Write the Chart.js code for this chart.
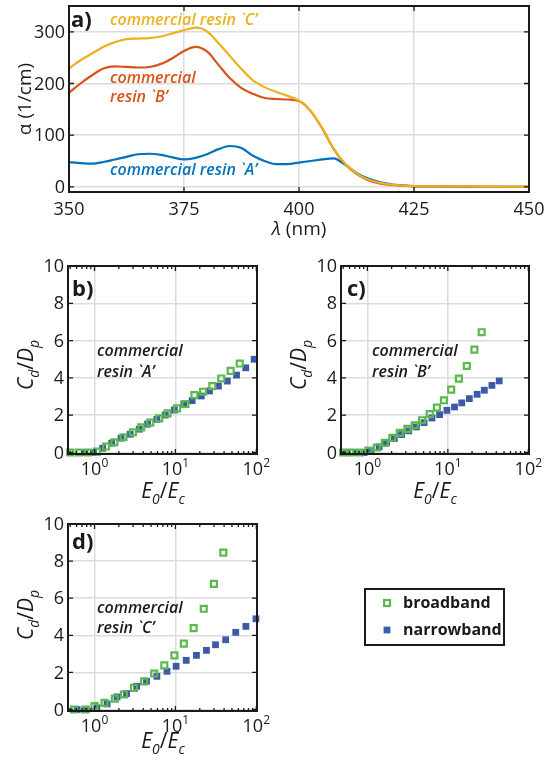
<!DOCTYPE html>
<html>
<head>
<meta charset="utf-8">
<script src="https://cdn.jsdelivr.net/npm/chart.js@4.4.1/dist/chart.umd.min.js"></script>
<style>
  body { margin: 0; background: #fff; width: 544px; height: 764px; position: relative; overflow: hidden; }
  canvas { position: absolute; }
</style>
</head>
<body>
<canvas id="a" width="544" height="250" style="left:0;top:0"></canvas>
<canvas id="b" width="272" height="258" style="left:0;top:250px"></canvas>
<canvas id="c" width="271" height="258" style="left:273px;top:250px"></canvas>
<canvas id="d" width="544" height="264" style="left:0;top:500px"></canvas>
<script>
// panel a: absorption spectra
const lambda = [350, 352.5, 355, 357.5, 360, 362.5, 365, 367.5, 370, 372.5, 375, 377.5, 380, 382.5,
  385, 387.5, 390, 392.5, 395, 397.5, 400, 402.5, 405, 407.5, 410, 412.5, 415, 417.5, 420, 422.5,
  425, 430, 435, 440, 445, 450];
const resinA = [48, 46, 45, 48, 53, 58, 63, 64, 62, 57, 53, 56, 63, 73, 79, 75, 60, 50, 44, 44,
  47, 50, 53, 55, 43, 27, 16, 9, 5, 3, 1.5, 0.7, 0.4, 0.2, 0.1, 0];
const resinB = [182, 200, 216, 229, 233, 232, 231, 232, 238, 249, 263, 271, 262, 236, 210, 191, 180, 172, 170, 169,
  166, 147, 114, 74, 44, 25, 13, 6.5, 3.5, 2, 1, 0.5, 0.3, 0.2, 0.1, 0];
const resinC = [229, 245, 258, 271, 280, 286, 287, 288, 291, 297, 303, 308, 301, 278, 253, 228, 206, 193, 184, 176,
  167, 147, 114, 74, 45, 26, 14, 8, 4.5, 2.5, 1.5, 1, 0.8, 0.5, 0.3, 0];
const lambdaTicks = [350, 375, 400, 425, 450];
const alphaTicks = [0, 100, 200, 300];

// panels b-d: working curves (E0/Ec vs Cd/Dp)
const bBroadX = [0.5, 0.64, 0.83, 1.07, 1.39, 1.76, 2.28, 2.98, 3.78, 4.89, 6.3, 8.0, 10.5, 13.3, 17.2, 22, 28.6, 36.9, 48.2, 62.4];
const bBroadY = [0, 0, 0, 0.05, 0.32, 0.55, 0.82, 1.08, 1.35, 1.6, 1.83, 2.1, 2.37, 2.6, 3.08, 3.26, 3.56, 3.97, 4.38, 4.77];
const bNarrowX = [0.76, 0.97, 1.26, 1.63, 2.13, 2.76, 3.57, 4.53, 5.9, 7.5, 9.7, 12.7, 16.1, 20.9, 26.4, 34, 43.8, 57, 74, 94];
const bNarrowY = [0, 0, 0.23, 0.5, 0.77, 0.98, 1.25, 1.52, 1.78, 2.01, 2.28, 2.6, 2.78, 3.03, 3.3, 3.56, 3.83, 4.15, 4.54, 5.0];

const cBroadX = [0.5, 0.62, 0.8, 1.03, 1.31, 1.65, 2.04, 2.53, 3.15, 3.88, 4.78, 5.95, 7.31, 8.93, 11.0, 13.7, 17.2, 21.4, 26.3];
const cBroadY = [0, 0, 0, 0.1, 0.27, 0.52, 0.79, 1.05, 1.27, 1.46, 1.73, 2.06, 2.41, 2.8, 3.37, 3.96, 4.64, 5.52, 6.45];
const cNarrowX = [0.557, 0.72, 0.91, 1.11, 1.40, 1.73, 2.16, 2.66, 3.27, 4.07, 5.06, 6.35, 7.9, 9.73, 12.1, 14.9, 18.5, 23.1, 28.4, 35.3, 43.5];
const cNarrowY = [0, 0, 0, 0.09, 0.3, 0.54, 0.75, 0.96, 1.16, 1.37, 1.6, 1.85, 2.03, 2.26, 2.44, 2.66, 2.89, 3.12, 3.34, 3.6, 3.84];

const dBroadX = [0.557, 0.77, 1.0, 1.33, 1.78, 2.31, 3.07, 4.1, 5.47, 7.29, 9.72, 12.7, 16.8, 22.4, 29.9, 39.1];
const dBroadY = [0, 0, 0.18, 0.36, 0.59, 0.81, 1.17, 1.52, 1.94, 2.38, 2.92, 3.55, 4.39, 5.43, 6.77, 8.46];
const dNarrowX = [0.61, 0.79, 1.07, 1.43, 1.9, 2.49, 3.32, 4.39, 5.9, 7.87, 10.2, 13.6, 18.2, 24.2, 31.3, 41.8, 55.7, 74.3, 99];
const dNarrowY = [0, 0, 0.09, 0.3, 0.68, 0.86, 1.25, 1.52, 1.79, 2.06, 2.33, 2.65, 2.92, 3.19, 3.49, 3.76, 4.16, 4.48, 4.89];

const cdTicks = [0, 2, 4, 6, 8, 10];
const decades = [1, 10, 100];
const decadeLabels = ['0', '1', '2'];

const FONT = '"Open Sans", sans-serif';
const INK = '#1a1a1a';
const GRID = '#dcdcdc';
const BLUE = '#0072BD', RED = '#D95319', YELLOW = '#EDB120';
const GREEN = '#5ab84c', NAVY = '#3d5aa8';
const TICK = 18, NOTE = 16;

const pts = (xs, ys) => xs.map((x, i) => ({ x, y: ys[i] }));

// draw a run of text pieces: [text, flags] with i=italic b=bold m=semibold _=sub ^=sup
function rich(ctx, parts, x, y, size, align) {
  const fontOf = f => (f.includes('i') ? 'italic ' : '') +
    (f.includes('b') ? '700 ' : f.includes('m') ? '600 ' : '') +
    (/[_^]/.test(f) ? Math.round(size * 0.68) : size) + 'px ' + FONT;
  let w = 0;
  parts.forEach(([t, f = '']) => { ctx.font = fontOf(f); w += ctx.measureText(t).width; });
  let cx = align === 'left' ? x : align === 'right' ? x - w : x - w / 2;
  ctx.textAlign = 'left';
  parts.forEach(([t, f = '']) => {
    ctx.font = fontOf(f);
    const dy = f.includes('_') ? size * 0.3 : f.includes('^') ? -size * 0.42 : 0;
    ctx.fillText(t, cx, y + dy);
    cx += ctx.measureText(t).width;
  });
}

const frame = {
  id: 'frame',
  afterDraw(chart, _, o) {
    const { ctx, chartArea: a } = chart;
    const x = chart.scales.x, y = chart.scales.y;
    ctx.save();
    ctx.strokeStyle = INK;
    ctx.fillStyle = INK;
    ctx.lineWidth = 1.3;
    ctx.beginPath();
    x.ticks.forEach(t => {
      const p = x.getPixelForValue(t.value);
      const len = o.isMajor(t.value) ? 5 : 3;
      ctx.moveTo(p, a.bottom); ctx.lineTo(p, a.bottom - len);
      ctx.moveTo(p, a.top); ctx.lineTo(p, a.top + len);
    });
    y.ticks.forEach(t => {
      const p = y.getPixelForValue(t.value);
      ctx.moveTo(a.left, p); ctx.lineTo(a.left + 5, p);
      ctx.moveTo(a.right, p); ctx.lineTo(a.right - 5, p);
    });
    ctx.stroke();
    ctx.lineWidth = 2;
    ctx.strokeRect(a.left, a.top, a.width, a.height);

    ctx.textBaseline = 'middle';
    y.ticks.forEach(t => rich(ctx, [[String(t.value)]], a.left - 4, y.getPixelForValue(t.value) + 1, TICK, 'right'));
    ctx.textBaseline = 'alphabetic';
    x.ticks.forEach(t => {
      const lab = o.xLabel(t.value);
      if (lab) rich(ctx, lab, x.getPixelForValue(t.value), a.bottom + o.xLabelDy, TICK, 'center');
    });

    o.texts.forEach(tx => {
      ctx.fillStyle = tx.color || INK;
      if (tx.rot) {
        ctx.save();
        ctx.translate(tx.x, tx.y);
        ctx.rotate(-Math.PI / 2);
        rich(ctx, tx.p, 0, 0, tx.size, 'center');
        ctx.restore();
      } else {
        rich(ctx, tx.p, tx.x, tx.y, tx.size, tx.align || 'center');
      }
    });

    if (o.legend) {
      const L = o.legend;
      ctx.lineWidth = 2;
      ctx.strokeStyle = INK;
      ctx.strokeRect(L.x, L.y, L.w, L.h);
      chart.data.datasets.forEach((ds, i) => {
        const cy = L.y + L.row0 + i * L.step;
        const s = ds.pointRadius * Math.SQRT2;
        if (ds.borderWidth) {
          ctx.strokeStyle = ds.borderColor;
          ctx.lineWidth = ds.borderWidth;
          ctx.strokeRect(L.x + L.mark - s / 2, cy - s / 2, s, s);
        } else {
          ctx.fillStyle = ds.backgroundColor;
          ctx.fillRect(L.x + L.mark - s / 2, cy - s / 2, s, s);
        }
        ctx.fillStyle = INK;
        ctx.textBaseline = 'middle';
        rich(ctx, [[ds.label, 'b']], L.x + L.text, cy, 16, 'left');
        ctx.textBaseline = 'alphabetic';
      });
    }
    ctx.restore();
  }
};

const base = (pad) => ({
  responsive: false,
  animation: false,
  devicePixelRatio: 1,
  events: [],
  layout: { padding: pad },
  plugins: { legend: { display: false }, tooltip: { enabled: false } }
});

// ---- panel a ----
const optA = base({ left: 0, top: 6, right: 15, bottom: 0 });
optA.scales = {
  x: {
    type: 'linear', min: 350, max: 450,
    afterBuildTicks: s => { s.ticks = lambdaTicks.map(v => ({ value: v })); },
    afterFit: s => { s.height = 58; },
    grid: { color: GRID, lineWidth: 1.5, drawTicks: false },
    border: { display: false },
    ticks: { display: false }
  },
  y: {
    type: 'linear', min: -10, max: 350,
    afterBuildTicks: s => { s.ticks = alphaTicks.map(v => ({ value: v })); },
    afterFit: s => { s.width = 69; },
    grid: { color: GRID, lineWidth: 1.5, drawTicks: false },
    border: { display: false },
    ticks: { display: false }
  }
};
optA.plugins.frame = {
  isMajor: () => true,
  xLabel: v => [[String(v)]],
  xLabelDy: 23,
  texts: [
    { p: [['α (1/cm)']], x: 31, y: 99, size: 19, rot: true },
    { p: [['λ', 'i'], [' (nm)']], x: 299, y: 235, size: 19 },
    { p: [['a)', 'b']], x: 71, y: 27, size: 22, align: 'left' },
    { p: [['commercial resin `C’', 'im']], x: 110, y: 25, size: NOTE, color: YELLOW, align: 'left' },
    { p: [['commercial', 'im']], x: 110, y: 83, size: NOTE, color: RED, align: 'left' },
    { p: [['resin `B’', 'im']], x: 110, y: 102, size: NOTE, color: RED, align: 'left' },
    { p: [['commercial resin `A’', 'im']], x: 110, y: 175, size: NOTE, color: BLUE, align: 'left' }
  ]
};
const line = (label, ys, color) => ({
  label, data: pts(lambda, ys), borderColor: color, borderWidth: 2.2,
  pointRadius: 0, fill: false, cubicInterpolationMode: 'monotone'
});
new Chart(document.getElementById('a'), {
  type: 'line',
  data: { datasets: [line("resin C", resinC, YELLOW), line("resin B", resinB, RED), line("resin A", resinA, BLUE)] },
  options: optA,
  plugins: [frame]
});

// ---- panels b-d ----
const minorTicks = [0.1, 1, 10].flatMap(d => [1, 2, 3, 4, 5, 6, 7, 8, 9].map(k => d * k)).concat([100]);

function workPanel(id, broad, narrow, pad, xH, texts, legend) {
  const opt = base(pad);
  opt.scales = {
    x: {
      type: 'logarithmic', min: 0.47, max: 102,
      afterBuildTicks: s => { s.ticks = minorTicks.filter(v => v >= s.min && v <= s.max).map(v => ({ value: v })); },
      afterFit: s => { s.height = xH; },
      grid: { color: c => decades.includes(c.tick.value) ? GRID : 'rgba(0,0,0,0)', lineWidth: 1.5, drawTicks: false },
      border: { display: false },
      ticks: { display: false }
    },
    y: {
      type: 'linear', min: -0.08, max: 10,
      afterBuildTicks: s => { s.ticks = cdTicks.map(v => ({ value: v })); },
      afterFit: s => { s.width = 68; },
      grid: { color: GRID, lineWidth: 1.5, drawTicks: false },
      border: { display: false },
      ticks: { display: false }
    }
  };
  opt.plugins.frame = {
    isMajor: v => decades.includes(v),
    xLabel: v => {
      const i = decades.indexOf(v);
      return i < 0 ? null : [['10'], [decadeLabels[i], '^']];
    },
    xLabelDy: 21,
    texts, legend
  };
  new Chart(document.getElementById(id), {
    type: 'scatter',
    data: {
      datasets: [
        { label: 'broadband', data: broad, pointStyle: 'rect', pointRadius: 4.2,
          backgroundColor: 'rgba(0,0,0,0)', borderColor: GREEN, borderWidth: 2.2, clip: false },
        { label: 'narrowband', data: narrow, pointStyle: 'rect', pointRadius: 4.8,
          backgroundColor: NAVY, borderColor: NAVY, borderWidth: 0, clip: false }
      ]
    },
    options: opt,
    plugins: [frame]
  });
}

const titles = (cx) => [
  { p: [['C', 'i'], ['d', 'i_'], ['/'], ['D', 'i'], ['p', 'i_']], x: 33, y: 115, size: 21, rot: true },
  { p: [['E', 'i'], ['0', 'i_'], ['/'], ['E', 'i'], ['c', 'i_']], x: cx, y: 248, size: 21 }
];

workPanel('b', pts(bBroadX, bBroadY), pts(bNarrowX, bNarrowY),
  { left: 0, top: 16, right: 15, bottom: 0 }, 54,
  titles(163).concat([
    { p: [['b)', 'b']], x: 72, y: 46, size: 22, align: 'left' },
    { p: [['commercial', 'im']], x: 97, y: 106, size: NOTE, align: 'left' },
    { p: [['resin `A’', 'im']], x: 97, y: 127, size: NOTE, align: 'left' }
  ]));

workPanel('c', pts(cBroadX, cBroadY), pts(cNarrowX, cNarrowY),
  { left: 0, top: 16, right: 15, bottom: 0 }, 54,
  titles(162).concat([
    { p: [['c)', 'b']], x: 74, y: 46, size: 22, align: 'left' },
    { p: [['commercial', 'im']], x: 99, y: 106, size: NOTE, align: 'left' },
    { p: [['resin `B’', 'im']], x: 99, y: 127, size: NOTE, align: 'left' }
  ]));

workPanel('d', pts(dBroadX, dBroadY), pts(dNarrowX, dNarrowY),
  { left: 0, top: 24, right: 287, bottom: 0 }, 53,
  titles(163).concat([
    { p: [['d)', 'b']], x: 72, y: 49, size: 22, align: 'left' },
    { p: [['commercial', 'im']], x: 97, y: 113, size: NOTE, align: 'left' },
    { p: [['resin `C’', 'im']], x: 97, y: 133, size: NOTE, align: 'left' }
  ]),
  { x: 365, y: 89, w: 139, h: 56, row0: 14, step: 27, mark: 22, text: 38 });
</script>
</body>
</html>
